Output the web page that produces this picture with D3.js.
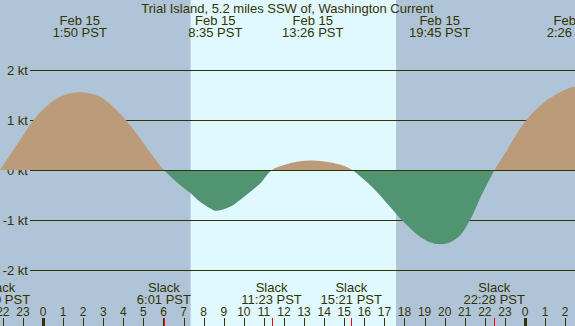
<!DOCTYPE html>
<html>
<head>
<meta charset="utf-8">
<script src="https://cdn.jsdelivr.net/npm/d3@7"></script>
<style>
  body { margin: 0; padding: 0; overflow: hidden; }
  svg { display: block; }
  text { font-family: "Liberation Sans", Arial, sans-serif; fill: #333300; }
</style>
</head>
<body>
<div id="chart"></div>
<script>
// hours are counted from midnight Feb 15 (PST)
var title = "Trial Island, 5.2 miles SSW of, Washington Current";

var viewHours = [-2.14, 26.49];          // visible time window
var daylightHours = [7.35, 17.58];       // sunrise, sunset

var extremaHours  = [1.83, 8.58, 13.43, 19.75, 26.43];
var extremaDates  = ["Feb 15", "Feb 15", "Feb 15", "Feb 15", "Feb 16"];
var extremaLabels = ["1:50 PST", "8:35 PST", "13:26 PST", "19:45 PST", "2:26 PST"];

var slackHours  = [-2.17, 6.02, 11.38, 15.35, 22.47];
var slackLabels = ["21:50 PST", "6:01 PST", "11:23 PST", "15:21 PST", "22:28 PST"];

// current speed (knots)
var curveHours = [-2.14, -1.64, -1.14, -0.48, 0.35, 1.10, 1.83, 2.84, 3.67, 4.13, 4.83, 5.49, 6.02,
                  6.82, 7.37, 7.82, 8.32, 8.58, 9.31, 9.81, 10.31, 10.81, 11.40,
                  12, 12.7, 13.43, 14.2, 15, 15.40,
                  16.28, 16.77, 17.28, 17.78, 18.28, 18.77, 19.27, 19.77, 20.27, 20.77, 21.27, 21.76, 22.26, 22.48,
                  23, 24, 25, 26, 26.43, 26.7];
var curveKt    = [0, 0.30, 0.60, 1.0, 1.34, 1.51, 1.56, 1.47, 1.20, 1.0, 0.64, 0.27, 0,
                  -0.30, -0.47, -0.64, -0.77, -0.82, -0.74, -0.60, -0.44, -0.27, 0,
                  0.10, 0.17, 0.19, 0.16, 0.08, 0,
                  -0.30, -0.50, -0.74, -0.97, -1.17, -1.34, -1.45, -1.49, -1.45, -1.31, -1.0, -0.57, -0.17, 0,
                  0.33, 0.97, 1.37, 1.61, 1.67, 1.66];

var ktTicks = [2, 1, 0, -1, -2];

var width = 575, height = 326;

var x = d3.scaleLinear().domain(viewHours).range([0, width]);
var y = d3.scaleLinear().domain([-2, 2]).range([269.6, 70.4]);

var svg = d3.select("#chart").append("svg")
    .attr("width", width)
    .attr("height", height);

// night / day background
svg.append("rect")
    .attr("width", width).attr("height", height)
    .style("fill", "#b0c4d8");
svg.append("rect")
    .attr("x", x(daylightHours[0]))
    .attr("width", x(daylightHours[1]) - x(daylightHours[0]))
    .attr("height", height)
    .style("fill", "#e0f8ff");

// grid lines
svg.selectAll(".grid").data(ktTicks).enter().append("line")
    .attr("class", "grid")
    .attr("x1", 30).attr("x2", width)
    .attr("y1", function(d) { return Math.round(y(d)) + 0.5; })
    .attr("y2", function(d) { return Math.round(y(d)) + 0.5; })
    .style("stroke", "#333300")
    .style("stroke-width", 1);

svg.selectAll(".ylab").data(ktTicks).enter().append("text")
    .attr("class", "ylab")
    .attr("x", 28)
    .attr("y", function(d) { return Math.round(y(d)) + 5; })
    .attr("text-anchor", "end")
    .style("font-size", "13px")
    .text(function(d) { return d + " kt"; });

// current area, split at zero
var pts = curveHours.map(function(h, i) { return [h, curveKt[i]]; });
var area = d3.area()
    .x(function(d) { return x(d[0]); })
    .y0(y(0))
    .y1(function(d) { return y(d[1]); })
    .curve(d3.curveCatmullRom.alpha(0.5));

var defs = svg.append("defs");
defs.append("clipPath").attr("id", "above")
    .append("rect").attr("width", width).attr("height", y(0));
defs.append("clipPath").attr("id", "below")
    .append("rect").attr("y", y(0)).attr("width", width).attr("height", height - y(0));

svg.append("path").datum(pts)
    .attr("d", area)
    .attr("clip-path", "url(#above)")
    .style("fill", "#bc9b7b");
svg.append("path").datum(pts)
    .attr("d", area)
    .attr("clip-path", "url(#below)")
    .style("fill", "#509471");

svg.append("line")
    .attr("x1", 30).attr("x2", width)
    .attr("y1", Math.round(y(0)) + 0.5).attr("y2", Math.round(y(0)) + 0.5)
    .style("stroke", "#333300");

// title and extrema labels
svg.append("text")
    .attr("x", width / 2).attr("y", 13)
    .attr("text-anchor", "middle")
    .style("font-size", "13px")
    .text(title);

var ext = svg.selectAll(".ext").data(extremaHours).enter().append("g")
    .attr("class", "ext")
    .attr("transform", function(d) { return "translate(" + x(d) + ",0)"; });
ext.append("text").attr("y", 24.5).attr("text-anchor", "middle")
    .style("font-size", "13px")
    .text(function(d, i) { return extremaDates[i]; });
ext.append("text").attr("y", 36.5).attr("text-anchor", "middle")
    .style("font-size", "13px")
    .text(function(d, i) { return extremaLabels[i]; });

// slack labels
var sl = svg.selectAll(".slack").data(slackHours).enter().append("g")
    .attr("class", "slack")
    .attr("transform", function(d) { return "translate(" + x(d) + ",0)"; });
sl.append("text").attr("y", 292).attr("text-anchor", "middle")
    .style("font-size", "13px")
    .text("Slack");
sl.append("text").attr("y", 303.5).attr("text-anchor", "middle")
    .style("font-size", "13px")
    .text(function(d, i) { return slackLabels[i]; });

// hour axis
var hours = d3.range(Math.ceil(viewHours[0]), Math.floor(viewHours[1]) + 1);
var hourAxis = svg.append("g");
hourAxis.selectAll("text").data(hours).enter().append("text")
    .attr("x", function(d) { return x(d); })
    .attr("y", 316)
    .attr("text-anchor", "middle")
    .style("font-size", "12px")
    .text(function(d) { return ((d % 24) + 24) % 24; });
hourAxis.selectAll("line").data(hours).enter().append("line")
    .attr("x1", function(d) { return Math.round(x(d)) + 0.5; })
    .attr("x2", function(d) { return Math.round(x(d)) + 0.5; })
    .attr("y1", 318).attr("y2", height)
    .style("stroke", "#333300")
    .style("stroke-width", function(d) { return d % 24 === 0 ? 3 : 1; });

svg.selectAll(".slacktick").data(slackHours).enter().append("line")
    .attr("class", "slacktick")
    .attr("x1", function(d) { return Math.round(x(d)) + 0.5; })
    .attr("x2", function(d) { return Math.round(x(d)) + 0.5; })
    .attr("y1", 318).attr("y2", height)
    .style("stroke", "#ff0000");
</script>
</body>
</html>
